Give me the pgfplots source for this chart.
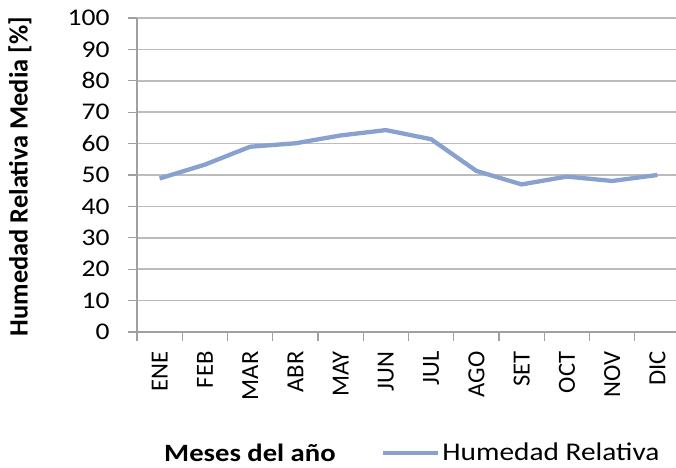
\documentclass[border=0pt]{standalone}
\usepackage{fontspec}
\setmainfont{Carlito}
\newfontfamily\hfont[FakeStretch=1.15]{Carlito}
\usepackage{pgfplots}
\pgfplotsset{compat=1.18}
\definecolor{linecol}{RGB}{137,161,207}
\definecolor{gridcol}{RGB}{188,188,188}
\definecolor{axcol}{RGB}{160,160,160}
\begin{document}
\begin{tikzpicture}
\begin{axis}[
  at={(137bp,136bp)}, anchor=south west,
  scale only axis,
  width=543bp, height=314bp,
  xmin=-0.5, xmax=11.5,
  ymin=0, ymax=100,
  axis x line*=bottom, axis y line*=left,
  axis line style={axcol, line width=1.3bp, -},
  ytick={0,10,...,100},
  xtick={0,...,11},
  xticklabels={ENE,FEB,MAR,ABR,MAY,JUN,JUL,AGO,SET,OCT,NOV,DIC},
  minor xtick={-0.5,0.5,...,11.5},
  major x tick style={draw=none},
  minor x tick style={axcol, line width=1.3bp},
  minor tick length=9bp,
  y tick style={axcol, line width=1.3bp},
  major tick length=9bp,
  tick align=outside,
  ymajorgrids,
  major grid style={gridcol, line width=1.6bp},
  /pgf/number format/assume math mode=true,
  yticklabel style={font=\hfont\fontsize{24}{29}\selectfont, anchor=east},
  yticklabel shift=15bp,
  xticklabel style={font=\fontsize{24.7}{30}\selectfont, rotate=90, anchor=east},
  xticklabel shift=7bp,
  xlabel={Meses del año},
  xlabel style={font=\hfont\fontsize{25}{30}\selectfont\bfseries, at={(axis description cs:0.208,-0.385)}, anchor=center},
  ylabel={Humedad Relativa Media [\%]},
  ylabel style={font=\fontsize{26.5}{32}\selectfont\bfseries, at={(axis description cs:-0.2155,0.495)}, anchor=center, rotate=0},
  legend style={at={(axis description cs:0.453,-0.385)}, anchor=west, draw=none, fill=none, inner sep=0pt, font=\hfont\fontsize{25.6}{32}\selectfont},
  legend image code/.code={\draw[#1] (0bp,0bp) -- (53bp,0bp); \draw[#1, overlay] (-2bp,0bp) -- (1bp,0bp);},
  clip=false,
]
\addplot[linecol, line width=4.3bp] coordinates {
 (0,48.9) (1,53.3) (2,59.0) (3,60.1) (4,62.6) (5,64.3) (6,61.4) (7,51.3) (8,47.0) (9,49.5) (10,48.1) (11,50.0)
};
\addlegendentry{Humedad Relativa}
\end{axis}
\pgfresetboundingbox
\path (0bp,0bp) rectangle (676bp,468bp);
\end{tikzpicture}
\end{document}
